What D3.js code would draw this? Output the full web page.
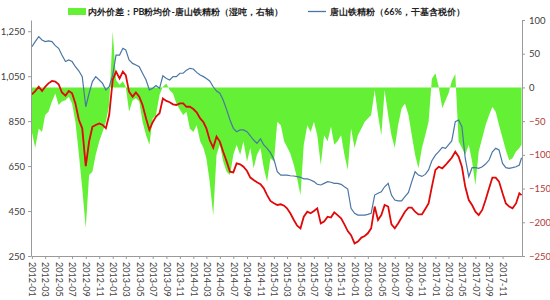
<!DOCTYPE html>
<html>
<head>
  <meta charset="utf-8">
  <script src="https://cdn.jsdelivr.net/npm/d3@7"></script>
  <style>
    body { margin: 0; background: #fff; }
    text { font-family: Lato, "Noto Sans", sans-serif; }
  </style>
</head>
<body>
<script type="text/javascript">
  "use strict";

  /* values, twice a month from 2012-01-01 */
  var tangshan = [
    1181,1204,1226,1211,1204,1207,1204,1186,1174,1144,1115,1122,1115,1092,1073,1048,914,974,1026,1048,1033,1018,989,1003,1055,1144,1144,1174,1167,1122,1107,1100,1092,1063,1033,989,996,
    1008,996,1052,1040,1033,1048,1048,1063,1063,1077,1085,1082,1067,1055,1048,1040,1029,1003,984,974,944,900,855,818,803,811,811,803,785,766,751,771,744,729,710,680,
    625,610,610,610,607,606,603,600,593,593,588,581,569,566,573,581,578,573,573,569,558,548,462,440,432,432,432,435,440,521,529,536,558,573,521,499,
    495,495,514,533,581,625,610,604,613,633,674,699,714,733,729,744,762,848,855,825,685,603,643,643,640,647,659,677,714,729,722,662,643,640,643,647,655,687
  ];
  var pbPrice = [
    969,984,1003,984,1003,1018,1029,1026,1014,978,963,984,974,929,855,818,650,759,825,833,840,833,818,877,1033,1070,1040,1070,1055,981,959,978,959,922,862,811,845,
    870,885,951,940,934,925,922,929,929,914,914,904,889,862,845,818,766,732,781,759,714,670,625,622,662,658,647,628,599,588,578,569,551,521,495,485,
    477,480,474,462,440,410,385,373,425,447,440,450,462,395,403,425,421,444,432,418,391,361,343,306,314,332,339,351,373,470,410,432,477,470,391,373,
    395,421,447,465,465,447,435,435,459,484,559,633,647,640,655,670,687,714,692,647,559,499,477,447,432,455,499,551,599,599,581,529,484,470,462,484,529,521
  ];
  var spread = [
    -66,-90,-61,-66,-41,-36,-21,-9,-26,-21,-19,-14,-24,-51,-100,-150,-209,-130,-125,-100,-80,-66,-51,-26,83,11,4,9,1,-36,-19,-16,-21,-51,-71,-85,-46,
    -41,-11,1,6,-4,-9,-24,-33,-41,-36,-61,-66,-56,-80,-90,-105,-140,-190,-100,-85,-110,-125,-130,-100,-85,-100,-80,-110,-90,-120,-100,-90,-120,-140,-105,-110,
    -51,-56,-80,-88,-98,-115,-135,-160,-85,-56,-66,-51,-71,-115,-71,-80,-58,-85,-80,-71,-100,-122,-61,-90,-71,-61,-51,-46,-41,-4,-41,-71,-4,-41,-71,-90,
    -56,-31,-24,-41,-71,-100,-120,-90,-71,-51,13,21,1,-31,-19,-9,9,20,-80,-90,-100,-85,-110,-145,-95,-75,-56,-41,-29,-36,-56,-75,-93,-108,-105,-95,-90,-85
  ];
  var leftTicks = [250, 450, 650, 850, 1050, 1250];
  var rightTicks = [-250, -200, -150, -100, -50, 0, 50, 100];
  var legendSpread = "内外价差：PB粉均价-唐山铁精粉（湿吨，右轴）";
  var legendTangshan = "唐山铁精粉（66%，干基含税价）";

  var dates = [];
  for (var i = 0; i < 146; i++) dates.push(new Date(2012, Math.floor(i / 2), i % 2 ? 16 : 1));
  dates.push(new Date(2018, 0, 26));

  var data = dates.map(function(d, i) {
    return {date: d, ts: tangshan[i], pb: pbPrice[i], sp: spread[i]};
  });

  var width = 550, height = 300,
      plotLeft = 31, plotRight = 522, plotTop = 20, plotBottom = 256;

  var svg = d3.select("body").append("svg")
      .attr("width", width)
      .attr("height", height);

  var x = d3.scaleTime()
      .domain([new Date(2011, 11, 28), new Date(2018, 0, 28)])
      .range([plotLeft, plotRight]);
  var yL = d3.scaleLinear().domain([250, 1300]).range([plotBottom, plotTop]);
  var yR = d3.scaleLinear().domain([-250, 100]).range([plotBottom, plotTop]);

  // labels every two months, 2012-01 .. 2017-11
  var xTicks = d3.timeMonth.every(2).range(new Date(2012, 0, 1), new Date(2017, 11, 1));

  // green spread area, right axis
  svg.append("path")
      .datum(data)
      .attr("fill", "#64f034")
      .attr("d", d3.area()
        .x(function(d) { return x(d.date); })
        .y0(yR(0))
        .y1(function(d) { return yR(d.sp); }));

  svg.append("path")
      .datum(data)
      .attr("fill", "none")
      .attr("stroke", "#4a76a6")
      .attr("stroke-width", 1.2)
      .attr("d", d3.line()
        .x(function(d) { return x(d.date); })
        .y(function(d) { return yL(d.ts); }));

  svg.append("path")
      .datum(data)
      .attr("fill", "none")
      .attr("stroke", "#e00808")
      .attr("stroke-width", 1.8)
      .attr("d", d3.line()
        .x(function(d) { return x(d.date); })
        .y(function(d) { return yL(d.pb); }));

  // axes
  var gL = svg.append("g")
      .attr("transform", "translate(" + plotLeft + ",0)")
      .call(d3.axisLeft(yL).tickValues(leftTicks).tickFormat(d3.format(",")).tickSize(3).tickSizeOuter(0));
  var gR = svg.append("g")
      .attr("transform", "translate(" + plotRight + ",0)")
      .call(d3.axisRight(yR).tickValues(rightTicks).tickSize(3).tickSizeOuter(0));
  var gX = svg.append("g")
      .attr("transform", "translate(0," + plotBottom + ")")
      .call(d3.axisBottom(x).tickValues(xTicks).tickFormat(d3.timeFormat("%Y-%m")).tickSize(3).tickSizeOuter(0));

  [gL, gR, gX].forEach(function(g) {
    g.select(".domain").attr("stroke", "#9a9a9a");
    g.selectAll(".tick line").attr("stroke", "#9a9a9a");
    g.selectAll("text").attr("fill", "#404040").style("font-size", "9.5px");
  });
  gL.selectAll("text").attr("x", -6);
  gR.selectAll("text").attr("x", 7)
      .attr("fill", function(d) { return d < 0 ? "#b03a3a" : "#404040"; });
  gX.selectAll("text")
      .style("font-size", "9px")
      .attr("text-anchor", "start")
      .attr("transform", "rotate(90)")
      .attr("x", 6)
      .attr("y", 0)
      .attr("dy", "0.35em");

  // legend
  var lg = svg.append("g").style("font-family", "'Noto Sans CJK SC', sans-serif")
      .style("font-size", "9px").style("font-weight", "bold");
  lg.append("rect").attr("x", 68).attr("y", 8).attr("width", 18).attr("height", 7).attr("fill", "#64f034");
  lg.append("text").attr("x", 88).attr("y", 15).attr("fill", "#222").text(legendSpread);
  lg.append("line").attr("x1", 308).attr("x2", 326).attr("y1", 11.5).attr("y2", 11.5)
      .attr("stroke", "#4a76a6").attr("stroke-width", 1.3);
  lg.append("text").attr("x", 330).attr("y", 15).attr("fill", "#222").text(legendTangshan);
</script>
</body>
</html>
